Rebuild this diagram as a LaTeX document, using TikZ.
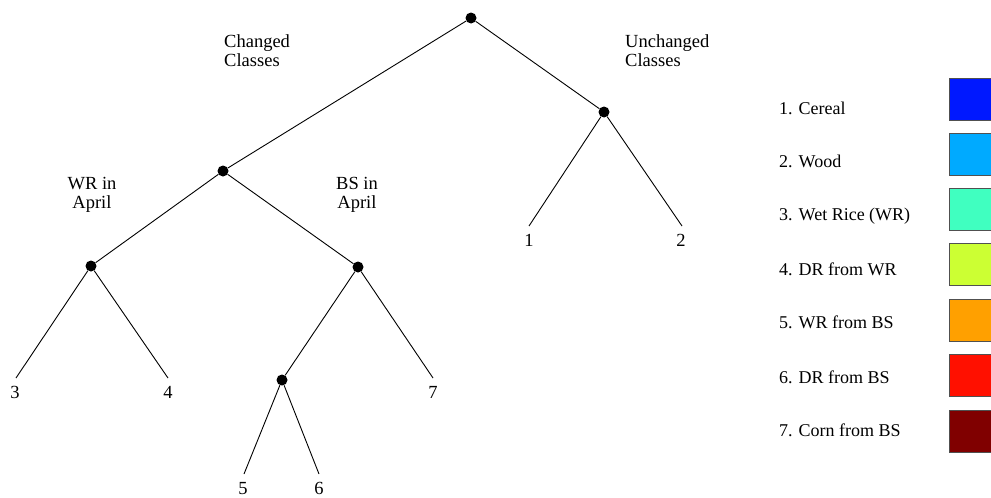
\documentclass[tikz,border=0pt]{standalone}
\usepackage{fontspec}
\setmainfont{Liberation Serif}
\definecolor{cCereal}{RGB}{0,24,255}
\definecolor{cWood}{RGB}{0,170,255}
\definecolor{cWetRice}{RGB}{64,255,192}
\definecolor{cDRWR}{RGB}{204,255,51}
\definecolor{cWRBS}{RGB}{255,160,0}
\definecolor{cDRBS}{RGB}{255,16,0}
\definecolor{cCorn}{RGB}{128,0,0}
\definecolor{cBorder}{RGB}{80,80,80}
\tikzset{
  dot/.style={circle,fill=black,inner sep=0pt,minimum size=11pt},
  branch/.style={line width=0.9pt,black},
  leaflabel/.style={anchor=base,inner sep=0pt,font=\fontsize{18.5}{20}\selectfont},
  grouplabel/.style={anchor=north west,inner sep=0pt,align=left,font=\fontsize{18.5}{19.5}\selectfont},
  grouplabelc/.style={anchor=north,inner sep=0pt,align=center,font=\fontsize{18.5}{19.5}\selectfont},
  legendtext/.style={anchor=base west,inner sep=0pt,font=\fontsize{18}{20}\selectfont},
  legendbox/.style={draw=cBorder,line width=1pt,minimum width=60pt,minimum height=42pt,anchor=north west,inner sep=0pt},
}
\begin{document}
\begin{tikzpicture}[x=1pt,y=-1pt]
\useasboundingbox (0,0) rectangle (991,498);
\clip (0,0) rectangle (991,498);
% internal nodes
\node[dot] (root) at (471,18) {};
\node[dot] (unch) at (604,112) {};
\node[dot] (chg) at (223,171) {};
\node[dot] (wr) at (91,266) {};
\node[dot] (bs) at (358,267) {};
\node[dot] (n56) at (282,380) {};
% leaf line ends
\coordinate (e1) at (529,226);
\coordinate (e2) at (682,226);
\coordinate (e3) at (16,378);
\coordinate (e4) at (168,378);
\coordinate (e7) at (433,378);
\coordinate (e5) at (244,474);
\coordinate (e6) at (319,474);
% connectors
\draw[branch] (root) -- (unch);
\draw[branch] (root) -- (chg);
\draw[branch] (unch) -- (e1);
\draw[branch] (unch) -- (e2);
\draw[branch] (chg) -- (wr);
\draw[branch] (chg) -- (bs);
\draw[branch] (wr) -- (e3);
\draw[branch] (wr) -- (e4);
\draw[branch] (bs) -- (n56);
\draw[branch] (bs) -- (e7);
\draw[branch] (n56) -- (e5);
\draw[branch] (n56) -- (e6);
% leaf labels
\node[leaflabel] (t1) at (529,246) {1};
\node[leaflabel] (t2) at (681,246) {2};
\node[leaflabel] (t3) at (15,398) {3};
\node[leaflabel] (t4) at (168,398) {4};
\node[leaflabel] (t7) at (433,398) {7};
\node[leaflabel] (t5) at (243,494) {5};
\node[leaflabel] (t6) at (319,494) {6};
% group labels
\node[grouplabel] (lchg) at (224,34) {Changed\\Classes};
\node[grouplabel] (lunch) at (625,34) {Unchanged\\Classes};
\node[grouplabelc] (lwr) at (92,177) {WR in\\April};
\node[grouplabelc] (lbs) at (357,177) {BS in\\April};
% legend
\node[legendtext] (k1) at (779,114) {1. Cereal};
\node[legendtext] (k2) at (779,167) {2. Wood};
\node[legendtext] (k3) at (779,220) {3. Wet Rice (WR)};
\node[legendtext] (k4) at (779,275) {4. DR from WR};
\node[legendtext] (k5) at (779,328) {5. WR from BS};
\node[legendtext] (k6) at (779,383) {6. DR from BS};
\node[legendtext] (k7) at (779,436) {7. Corn from BS};
\node[legendbox,fill=cCereal] (b1) at (949,78) {};
\node[legendbox,fill=cWood] (b2) at (949,133) {};
\node[legendbox,fill=cWetRice] (b3) at (949,188) {};
\node[legendbox,fill=cDRWR] (b4) at (949,243) {};
\node[legendbox,fill=cWRBS] (b5) at (949,299) {};
\node[legendbox,fill=cDRBS] (b6) at (949,354) {};
\node[legendbox,fill=cCorn] (b7) at (949,410) {};
\end{tikzpicture}
\end{document}
